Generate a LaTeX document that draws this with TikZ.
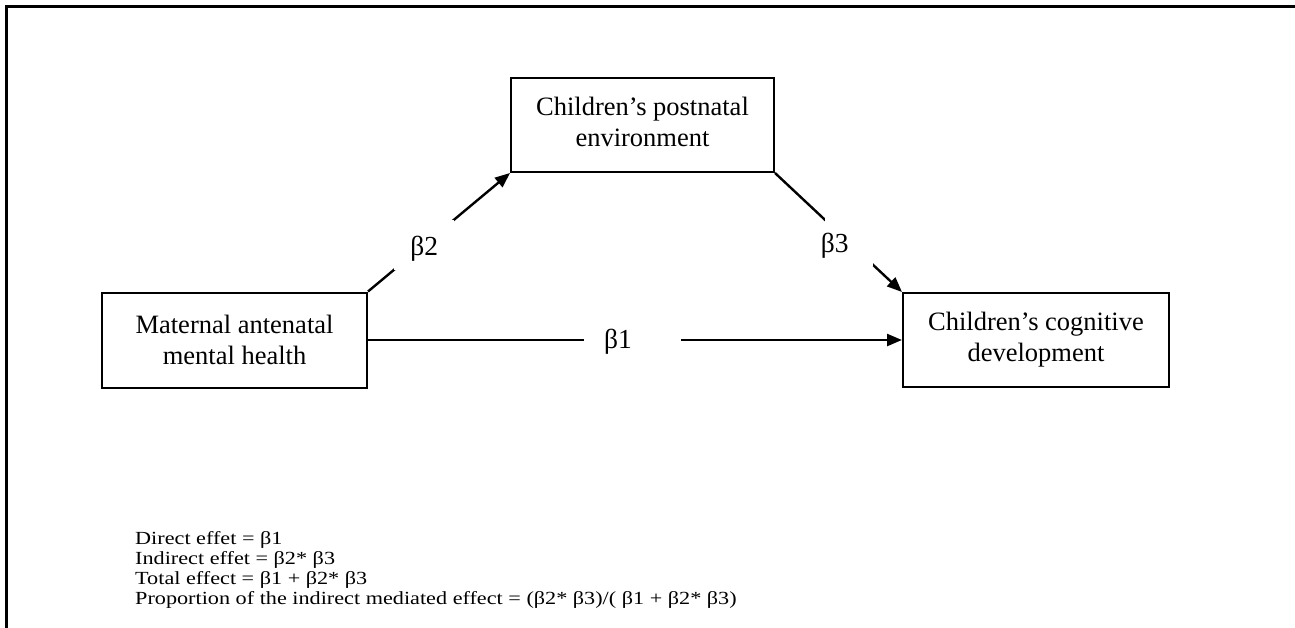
\documentclass[tikz,border=0pt]{standalone}
\usepackage{fontspec}
\setmainfont{Liberation Serif}
\newfontfamily\notefont[FakeStretch=1.2]{Liberation Serif}
\usetikzlibrary{arrows.meta}
\begin{document}
\begin{tikzpicture}[x=1pt,y=-1pt,
  box/.style={draw, line width=2pt, minimum width=265pt, minimum height=95pt, align=center, font=\fontsize{26.5}{31}\selectfont, inner sep=0pt},
  conn/.style={line width=2.4pt, -{Triangle[length=15pt,width=12pt]}},
  gap/.style={fill=white, inner sep=0pt},
  blabel/.style={font=\fontsize{27.5}{30}\selectfont, inner sep=0pt},
  note/.style={anchor=base west, font=\notefont\fontsize{18.5}{20}\selectfont, inner sep=0pt}]
\useasboundingbox (0,0) rectangle (1295,628);
\draw[line width=2.5pt] (6.3,628) -- (6.3,6.3) -- (1295,6.3);
\node[box] (M) at (234.5,340) {Maternal antenatal\\mental health};
\node[box, minimum width=263pt, minimum height=94pt] (P) at (642.5,125) {\raisebox{6pt}{\begin{tabular}{@{}c@{}}Children’s postnatal\\environment\end{tabular}}};
\node[box, minimum width=266pt, minimum height=94pt] (C) at (1036,340) {\raisebox{2pt}{\begin{tabular}{@{}c@{}}Children’s cognitive\\development\end{tabular}}};
\draw[conn] (M.north east) -- node[gap, pos=0.396, minimum width=60pt, minimum height=50pt, label={[blabel, yshift=-4pt]center:β2}]{} (P.south west);
\draw[conn] (P.south east) -- node[gap, pos=0.58, minimum size=48pt, label={[blabel, xshift=-14pt, yshift=-4pt]center:β3}]{} (C.north west);
\draw[conn] (M.east) -- node[gap, pos=0.496, minimum width=97pt, minimum height=30pt, label={[blabel, xshift=-15pt, yshift=-2pt]center:β1}]{} (C.west);
\node[note] (n1) at (135,544) {Direct effet = β1};
\node[note] (n2) at (135,564) {Indirect effet = β2* β3};
\node[note] (n3) at (135,584) {Total effect = β1 + β2* β3};
\node[note] (n4) at (135,604) {Proportion of the indirect mediated effect = (β2* β3)/( β1 + β2* β3)};
\end{tikzpicture}
\end{document}
